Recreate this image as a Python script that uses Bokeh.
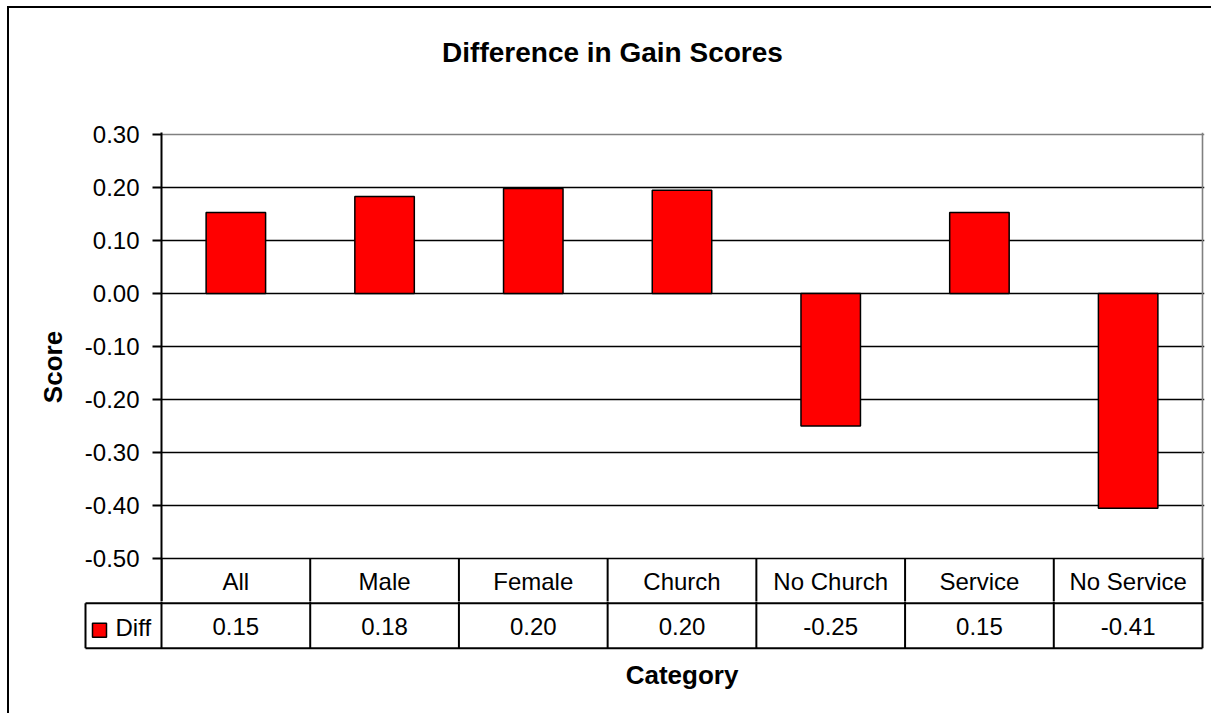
from bokeh.plotting import figure
from bokeh.models import Range1d, FixedTicker, NumeralTickFormatter, Grid
from bokeh.layouts import column
from bokeh.core.properties import value
from bokeh.embed import file_html
from bokeh.resources import INLINE

# ---- data ----
title_text = "Difference in Gain Scores"
x_title = "Category"
y_title = "Score"
series_name = "Diff"
categories = ["All", "Male", "Female", "Church", "No Church", "Service", "No Service"]
diff = [0.153, 0.183, 0.198, 0.195, -0.250, 0.153, -0.405]
y_ticks = [-0.5, -0.4, -0.3, -0.2, -0.1, 0.0, 0.1, 0.2, 0.3]

# ---- layout constants ----
FONT = "Liberation Sans"
RED = "#FF0000"
n = len(categories)
centers = [i + 0.5 for i in range(n)]
edges = list(range(n + 1))

W = 1202
PPU_X = 148.72          # px per category
PPU_Y = 530.0           # px per score unit
PAD = 2
ROW_H = 44.85           # table row height, px
LEG = 76 / PPU_X        # legend column width in category units
TITLE_H = 80
TOP_H = 593 - TITLE_H
BOT_H = 112
SPLIT = 43              # px below the -0.50 line where the two figures meet

y_lo = y_ticks[0]
row1_mid = y_lo - 22.5 / PPU_Y

# ---- title strip ----
h = figure(width=W, height=TITLE_H, x_range=Range1d(0, W), y_range=Range1d(TITLE_H, 0),
           output_backend="svg", toolbar_location=None,
           min_border_left=0, min_border_right=0, min_border_top=0, min_border_bottom=0)
h.frame_align = False
h.axis.visible = False
h.grid.visible = False
h.outline_line_color = None
h.background_fill_color = "white"
h.border_fill_color = "white"
h.text(x=[603], y=[44], text=[title_text], text_align="center", text_baseline="middle",
       text_font=value(FONT), text_font_size="28px", text_font_style="bold", text_color="black")

# ---- main chart (plot area + category row of the table) ----
p = figure(width=W, height=TOP_H,
           x_range=Range1d(0, n + PAD / PPU_X),
           y_range=Range1d(y_lo - SPLIT / PPU_Y, y_ticks[-1] + PAD / PPU_Y),
           output_backend="svg", toolbar_location=None,
           min_border_left=152, min_border_right=7, min_border_top=124 - TITLE_H, min_border_bottom=0)
p.frame_align = False
p.outline_line_color = None
p.background_fill_color = "white"
p.border_fill_color = "white"
p.xaxis.visible = False
p.xgrid.visible = False
p.ygrid.ticker = FixedTicker(ticks=y_ticks[:-1])
p.ygrid.grid_line_color = "black"
p.ygrid.grid_line_width = 1.6
p.add_layout(Grid(dimension=1, ticker=FixedTicker(ticks=[y_ticks[-1]]),
                  grid_line_color="#808080", grid_line_width=1.6))
p.add_layout(Grid(dimension=0, ticker=FixedTicker(ticks=[n]),
                  grid_line_color="#808080", grid_line_width=1.6))

ya = p.yaxis[0]
ya.ticker = FixedTicker(ticks=y_ticks)
ya.formatter = NumeralTickFormatter(format="0.00")
ya.axis_line_width = 2
ya.major_tick_line_width = 2
ya.major_tick_out = 9
ya.major_tick_in = 0
ya.minor_tick_out = 0
ya.minor_tick_in = 0
ya.major_label_text_font = FONT
ya.major_label_text_font_size = "24px"
ya.major_label_text_color = "black"
ya.major_label_standoff = 13
ya.axis_label = y_title
ya.axis_label_text_font = FONT
ya.axis_label_text_font_size = "26px"
ya.axis_label_text_font_style = "bold"
ya.axis_label_text_color = "black"
ya.axis_label_standoff = 14

p.vbar(x=centers, top=diff, bottom=0, width=0.4,
       fill_color=RED, line_color="black", line_width=1.5)

# category row of the data table
p.segment(x0=edges, y0=[y_lo] * len(edges), x1=edges, y1=[y_lo - 2 * SPLIT / PPU_Y] * len(edges),
          line_color="black", line_width=2)
p.text(x=centers, y=[row1_mid] * n, text=categories, text_align="center", text_baseline="middle",
       text_font=value(FONT), text_font_size="24px", text_color="black")

# ---- value row of the data table ----
t = figure(width=W, height=BOT_H,
           x_range=Range1d(-78 / PPU_X, n + PAD / PPU_X),
           y_range=Range1d((SPLIT + BOT_H) / ROW_H, SPLIT / ROW_H),
           output_backend="svg", toolbar_location=None,
           min_border_left=74, min_border_right=7, min_border_top=0, min_border_bottom=0)
t.frame_align = False
t.axis.visible = False
t.grid.visible = False
t.outline_line_color = None
t.background_fill_color = "white"
t.border_fill_color = "white"

t.segment(x0=[-LEG, -LEG], y0=[1, 2], x1=[n, n], y1=[1, 2], line_color="black", line_width=2)
t.segment(x0=edges, y0=[0.5] * len(edges), x1=edges, y1=[2] * len(edges),
          line_color="black", line_width=2)
t.segment(x0=[-LEG], y0=[1], x1=[-LEG], y1=[2], line_color="black", line_width=2)

t.text(x=centers, y=[1.52] * n, text=[f"{v:.2f}" for v in diff], text_align="center",
       text_baseline="middle", text_font=value(FONT), text_font_size="24px", text_color="black")

t.scatter(x=[-LEG + 14 / PPU_X], y=[1.6], marker="square", size=14,
          fill_color=RED, line_color="black", line_width=1.5)
t.text(x=[-LEG + 30 / PPU_X], y=[1.53], text=[series_name], text_align="left", text_baseline="middle",
       text_font=value(FONT), text_font_size="24px", text_color="black")
t.text(x=[n / 2], y=[(674 - 558) / ROW_H], text=[x_title], text_align="center", text_baseline="middle",
       text_font=value(FONT), text_font_size="26px", text_font_style="bold", text_color="black")

layout = column(h, p, t, spacing=0,
                styles={"margin": "6px 0 0 7px",
                        "border-left": "2px solid black", "border-top": "2px solid black"})

open("out.html", "w").write(file_html(layout, INLINE))
